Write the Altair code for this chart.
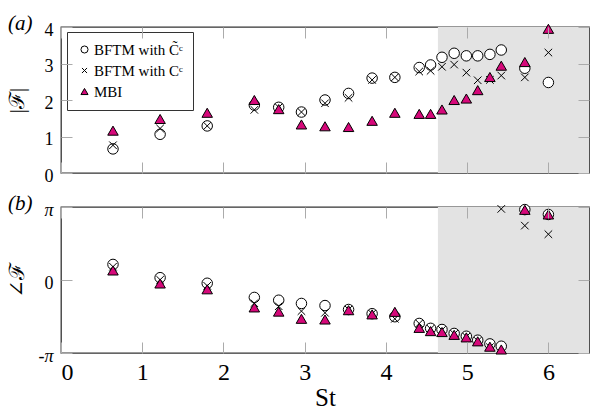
import altair as alt
import pandas as pd
import math

# ---- data ----
st = [0.64, 1.22, 1.80, 2.38, 2.68, 2.96, 3.25, 3.54, 3.83, 4.11,
      4.41, 4.55, 4.69, 4.84, 4.99, 5.13, 5.28, 5.42, 5.71, 6.00]

mag_bftm_tilde = [0.66, 1.06, 1.29, 1.86, 1.80, 1.67, 2.00, 2.18, 2.60, 2.62,
                  2.89, 2.96, 3.17, 3.28, 3.21, 3.21, 3.25, 3.37, 2.87, 2.48]
mag_bftm = [0.76, 1.22, 1.29, 1.73, 1.80, 1.67, 1.91, 2.06, 2.55, 2.62,
            2.78, 2.80, 2.91, 2.97, 2.75, 2.54, 2.55, 2.67, 2.62, 3.30]
mag_mbi = [1.16, 1.48, 1.65, 2.00, 1.75, 1.33, 1.28, 1.26, 1.43, 1.65,
           1.62, 1.62, 1.74, 2.00, 2.04, 2.27, 2.63, 2.94, 3.04, 3.95]

ph_bftm_tilde = [0.67, 0.10, -0.14, -0.75, -0.87, -1.01, -1.10, -1.27, -1.45, -1.58,
                 -1.87, -2.08, -2.13, -2.30, -2.42, -2.59, -2.75, -2.85, 3.03, 2.82]
ph_bftm = [0.57, 0.01, -0.25, -1.00, -1.13, -1.34, -1.41, -1.27, -1.45, -1.67,
           -1.87, -2.10, -2.15, -2.32, -2.44, -2.62, -2.89, 3.06, 2.34, 1.97]
ph_mbi = [0.41, -0.15, -0.40, -1.18, -1.36, -1.67, -1.70, -1.30, -1.48, -1.37,
          -2.06, -2.20, -2.24, -2.36, -2.47, -2.64, -2.87, -2.99, 3.02, 2.82]

series_names = ["BFTM with C\u0303\u1d9c", "BFTM with C\u1d9c", "MBI"]
shade_start = [4.64]
shade_end = [6.5]
x_ticks = [0, 1, 2, 3, 4, 5, 6]
mag_ticks = [0, 1, 2, 3, 4]
phase_ticks = [-math.pi, 0, math.pi]

# ---- tables ----
rows = []
for name, mags, phs in zip(series_names,
                           [mag_bftm_tilde, mag_bftm, mag_mbi],
                           [ph_bftm_tilde, ph_bftm, ph_mbi]):
    for s, m, p in zip(st, mags, phs):
        rows.append({"St": s, "series": name, "mag": m, "phase": p})
df = pd.DataFrame(rows)
shade = pd.DataFrame({"x": shade_start, "x2": shade_end})

# ---- styling ----
W, H = 528, 146
FONT = "Liberation Serif, Times New Roman, DejaVu Serif, serif"
MAG = "#d6087a"
TICK = "#ababab"

xscale = alt.Scale(domain=[0, 6.5], nice=False, zero=False)
shape_scale = alt.Scale(domain=series_names,
                        range=["circle", "M-0.72,-0.72L0.72,0.72M0.72,-0.72L-0.72,0.72",
                               "triangle-up"])
fill_scale = alt.Scale(domain=series_names, range=["white", "transparent", MAG])
stroke_scale = alt.Scale(domain=series_names, range=["black", "black", "black"])


def x_axis(show_labels):
    kw = dict(values=x_ticks, grid=True, gridColor=TICK, gridWidth=1,
              gridDash=[11, H - 22, 11, 0], ticks=False, domain=False,
              zindex=1)
    if show_labels:
        return alt.Axis(labels=True, labelFont=FONT, labelFontSize=24,
                        labelColor="black", labelPadding=7, format="d",
                        title="St", titleFont=FONT, titleFontSize=25,
                        titleFontWeight="normal", titleColor="black",
                        titlePadding=1, **kw)
    return alt.Axis(labels=False, title=None, **kw)


def y_axis(values, title, label_expr=None):
    kw = dict(values=values, grid=True, gridColor=TICK, gridWidth=1,
              gridDash=[11, W - 22, 11, 0], ticks=False, domain=False,
              labelFont=FONT, labelFontSize=18, labelColor="black",
              labelPadding=8, labelOffset=3,
              title=title, titleFont=FONT, titleFontSize=21,
              titleFontWeight="normal", titleColor="black",
              titleX=-38, titleBaseline="alphabetic", zindex=1)
    if label_expr:
        kw["labelExpr"] = label_expr
        kw["labelFontStyle"] = alt.expr("datum.value == 0 ? 'normal' : 'italic'")
    return alt.Axis(**kw)


def panel_title(txt):
    return alt.TitleParams(txt, anchor="start", orient="top", frame="group",
                           dx=-53, dy=30, offset=0, font=FONT, fontSize=21,
                           fontStyle="italic", fontWeight="normal",
                           color="black", baseline="alphabetic")


legend = alt.Legend(title=None, orient="none", legendX=6, legendY=5,
                    fillColor="white", strokeColor="#333333", padding=10,
                    cornerRadius=0, labelFont=FONT, labelFontSize=15,
                    labelColor="black", symbolSize=50,
                    symbolStrokeColor="black", symbolStrokeWidth=1,
                    symbolOpacity=1, rowPadding=5, labelOffset=2)

# ---- panel (a) ----
rect_a = alt.Chart(shade).mark_rect(color="#e3e3e3").encode(
    x=alt.X("x:Q", scale=xscale, axis=x_axis(False)),
    x2="x2:Q",
)
pts_a = alt.Chart(df).mark_point(strokeWidth=1, opacity=1,
                                 fillOpacity=1, size=110).encode(
    x=alt.X("St:Q", scale=xscale),
    y=alt.Y("mag:Q", scale=alt.Scale(domain=[0, 4], nice=False),
            axis=y_axis(mag_ticks, "|\u2131|")),
    shape=alt.Shape("series:N", scale=shape_scale, legend=legend),
    fill=alt.Fill("series:N", scale=fill_scale, legend=legend),
    stroke=alt.Stroke("series:N", scale=stroke_scale, legend=legend),
)
panel_a = alt.layer(rect_a, pts_a).properties(
    width=W, height=H, title=panel_title("(a)"))

# ---- panel (b) ----
rect_b = alt.Chart(shade).mark_rect(color="#e3e3e3").encode(
    x=alt.X("x:Q", scale=xscale, axis=x_axis(True)),
    x2="x2:Q",
)
pts_b = alt.Chart(df).mark_point(stroke="black", strokeWidth=1, opacity=1,
                                 fillOpacity=1, size=110).encode(
    x=alt.X("St:Q", scale=xscale),
    y=alt.Y("phase:Q", scale=alt.Scale(domain=[-math.pi, math.pi], nice=False),
            axis=y_axis(phase_ticks, "\u2220\u2131",
                        label_expr="datum.value > 0.1 ? '\u03c0' : (datum.value < -0.1 ? '-\u03c0' : '0')")),
    shape=alt.Shape("series:N", scale=shape_scale, legend=None),
    fill=alt.Fill("series:N", scale=fill_scale, legend=None),
)
panel_b = alt.layer(rect_b, pts_b).properties(
    width=W, height=H, title=panel_title("(b)"))

chart = alt.vconcat(panel_a, panel_b, spacing=34, bounds="flush").resolve_scale(
    shape="independent", fill="independent", stroke="independent"
).resolve_legend(
    shape="independent", fill="independent", stroke="independent"
).properties(
    padding={"left": 5, "top": 12, "right": 0, "bottom": 0},
    background="white",
).configure_view(stroke="#333333", strokeWidth=1.3)

chart.save("out.html", embed_options={"renderer": "svg", "actions": False})
